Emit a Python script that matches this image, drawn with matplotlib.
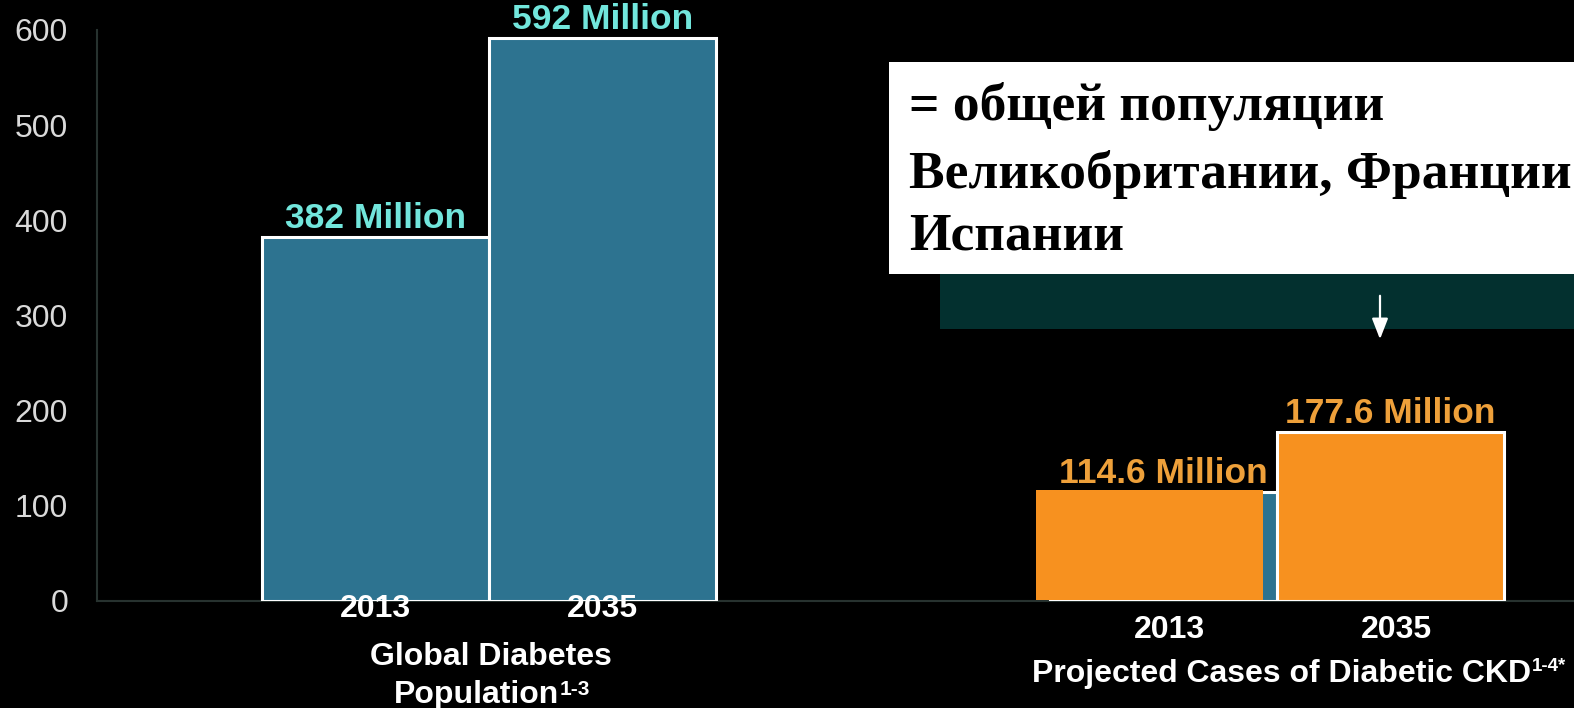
import matplotlib
matplotlib.use("Agg")
import matplotlib.pyplot as plt
from matplotlib.patches import Rectangle, FancyArrowPatch

# ---- data -------------------------------------------------------------
years = ["2013", "2035"]
diabetes_pop = [382, 592]          # million people with diabetes
ckd_cases = [114.6, 177.6]         # million projected diabetic CKD cases
y_ticks = [0, 100, 200, 300, 400, 500, 600]
panel_titles = [["Global Diabetes", "Population"],
                ["Projected Cases of Diabetic CKD"]]
panel_refs = ["1-3", "1-4*"]
callout_lines = ["= общей популяции",
                 "Великобритании, Франции",
                 "Испании"]

# ---- styling ----------------------------------------------------------
W, H = 1574, 708
BG = "black"
TEAL = "#2d7390"
ORANGE = "#f7911f"
CYAN_TXT = "#72e6dc"
ORANGE_TXT = "#eea03a"
SANS = "Liberation Sans"
SERIF = "Liberation Serif"

def fx(x):
    return x / W

def fy(y):
    return 1 - y / H

def px2pt(p):
    return p * 72 / 100

fig = plt.figure(figsize=(W / 100, H / 100), dpi=100, facecolor=BG)

# dark panel behind the callout
fig.patches.append(Rectangle((fx(940), fy(329)), fx(1574) - fx(940), fy(200) - fy(329),
                             transform=fig.transFigure, facecolor="#03302f",
                             edgecolor="none", zorder=0))

ax = fig.add_axes([fx(97), fy(601), fx(1574) - fx(97), fy(30) - fy(601)])
ax.set_facecolor("none")
ax.set_xlim(97, 1574)
ax.set_ylim(0, 600)

for side in ("top", "right"):
    ax.spines[side].set_visible(False)
for side in ("left", "bottom"):
    ax.spines[side].set_color("#27322f")
    ax.spines[side].set_linewidth(1.5)

ax.set_yticks(y_ticks)
ax.set_yticklabels([str(t) for t in y_ticks])
ax.tick_params(axis="y", length=0, pad=px2pt(29), labelsize=23, labelcolor="#dadada")
for lab in ax.get_yticklabels():
    lab.set_family(SANS)
ax.set_xticks([])

# bar layout
bar_w = 227
group_centers = [489, 1277]
offsets = [-113.5, 113.5]

groups = [
    (diabetes_pop, [TEAL, TEAL], CYAN_TXT),
    (ckd_cases, [TEAL, ORANGE], ORANGE_TXT),
]
year_baseline_px = [16, 37]      # baseline offset below the axis, px
bar_x = []
for gi, (vals, cols, tcol) in enumerate(groups):
    xs = [group_centers[gi] + o for o in offsets]
    bar_x.append(xs)
    ax.bar(xs, vals, width=bar_w, color=cols, edgecolor="white",
           linewidth=2.2, zorder=3)
    for x, v in zip(xs, vals):
        ax.annotate(f"{v:g} Million", xy=(x, v), xytext=(0, px2pt(9)),
                    textcoords="offset points", ha="center", va="baseline",
                    fontsize=25.5, fontweight="bold", family=SANS, color=tcol,
                    zorder=6, annotation_clip=False)
    dx = 0 if gi == 0 else 6
    for x, yr in zip(xs, years):
        ax.annotate(yr, xy=(x + dx, 0), xytext=(0, -px2pt(year_baseline_px[gi])),
                    textcoords="offset points", ha="center", va="baseline",
                    fontsize=23, fontweight="bold", family=SANS, color="white",
                    zorder=7, annotation_clip=False)

# orange overlay patch on the 2013 CKD bar
x13 = bar_x[1][0]
ax.add_patch(Rectangle((x13 - bar_w / 2 - 14, 0.8), bar_w, ckd_cases[0] + 1.2,
                       facecolor=ORANGE, edgecolor="none", zorder=5))

# panel titles
t1 = fig.text(fx(491), fy(665), panel_titles[0][0], ha="center", va="baseline",
              fontsize=23, fontweight="bold", family=SANS, color="white")
t2 = fig.text(fx(476), fy(703), panel_titles[0][1], ha="center", va="baseline",
              fontsize=23, fontweight="bold", family=SANS, color="white")
ax.annotate(panel_refs[0], xy=(1, 1), xycoords=t2, xytext=(1, 0),
            textcoords="offset points", ha="left", va="top",
            fontsize=15, fontweight="bold", family=SANS, color="white",
            annotation_clip=False)
t3 = fig.text(fx(1282), fy(682), panel_titles[1][0], ha="center", va="baseline",
              fontsize=23, fontweight="bold", family=SANS, color="white")
ax.annotate(panel_refs[1], xy=(1, 1), xycoords=t3, xytext=(0.5, 1),
            textcoords="offset points", ha="left", va="top",
            fontsize=13.5, fontweight="bold", family=SANS, color="white",
            annotation_clip=False)

# white callout with text
fig.patches.append(Rectangle((fx(889), fy(274)), fx(1574) - fx(889), fy(62) - fy(274),
                             transform=fig.transFigure, facecolor="white",
                             edgecolor="none", zorder=8))
for line, base in zip(callout_lines, [120, 188, 250]):
    fig.text(fx(909), fy(base), line, ha="left", va="baseline", fontsize=38.5,
             fontweight="bold", family=SERIF, color="black", zorder=9)

# down arrow under the callout
fig.patches.append(FancyArrowPatch((fx(1380), fy(293)), (fx(1380), fy(342)),
                                   transform=fig.transFigure,
                                   arrowstyle="-|>,head_length=0.9,head_width=0.35",
                                   mutation_scale=14, color="white", linewidth=1.6,
                                   zorder=9))

fig.savefig("out.png", dpi=100, facecolor=BG)
